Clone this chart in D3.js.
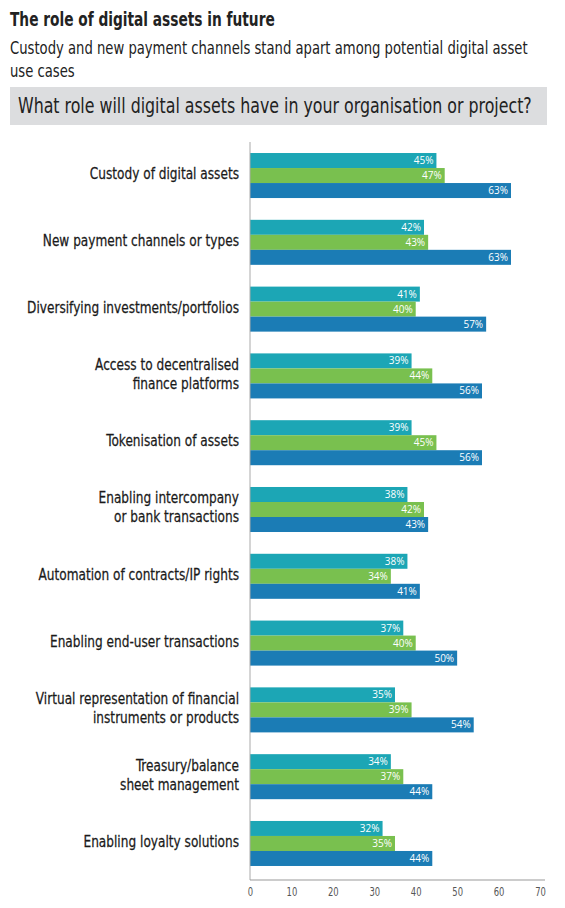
<!DOCTYPE html>
<html>
<head>
<meta charset="utf-8">
<script src="https://cdn.jsdelivr.net/npm/d3@7"></script>
<style>
  body { margin: 0; background: #fff; }
  text { font-family: "DejaVu Sans Condensed", "DejaVu Sans", sans-serif; font-stretch: condensed; }
</style>
</head>
<body>
<div class="chart"></div>
<script>
var categories = [
  ["Custody of digital assets"],
  ["New payment channels or types"],
  ["Diversifying investments/portfolios"],
  ["Access to decentralised", "finance platforms"],
  ["Tokenisation of assets"],
  ["Enabling intercompany", "or bank transactions"],
  ["Automation of contracts/IP rights"],
  ["Enabling end-user transactions"],
  ["Virtual representation of financial", "instruments or products"],
  ["Treasury/balance", "sheet management"],
  ["Enabling loyalty solutions"]
]
var seriesTeal  = [45, 42, 41, 39, 39, 38, 38, 37, 35, 34, 32]
var seriesGreen = [47, 43, 40, 44, 45, 42, 34, 40, 39, 37, 35]
var seriesBlue  = [63, 63, 57, 56, 56, 43, 41, 50, 54, 44, 44]
var seriesNames = ["teal", "green", "blue"]
var xTicks = [0, 10, 20, 30, 40, 50, 60, 70]

document.addEventListener("DOMContentLoaded", draw)

// squeeze a text horizontally around anchor x so it has a given width
function squeezeTo(node, x0, target){
  var w = node.getComputedTextLength()
  var f = target / w
  d3.select(node).attr("transform", `translate(${x0},0) scale(${f},1) translate(${-x0},0)`)
  return f
}
function squeezeBy(node, x0, f){
  d3.select(node).attr("transform", `translate(${x0},0) scale(${f},1) translate(${-x0},0)`)
}

function draw(){
  var width = 565,
      height = 908

  var svg = d3.select(".chart").append("svg")
    .attr("width", width)
    .attr("height", height)

  // header
  var title = svg.append("text")
    .attr("x", 10).attr("y", 26)
    .attr("font-size", 20).attr("font-weight", "bold")
    .attr("fill", "#222")
    .text("The role of digital assets in future")
  squeezeTo(title.node(), 10, 265)

  var sub1 = svg.append("text")
    .attr("x", 10).attr("y", 54)
    .attr("font-size", 17).attr("fill", "#222")
    .text("Custody and new payment channels stand apart among potential digital asset")
  var f = squeezeTo(sub1.node(), 10, 518)
  var sub2 = svg.append("text")
    .attr("x", 10).attr("y", 77)
    .attr("font-size", 17).attr("fill", "#222")
    .text("use cases")
  squeezeBy(sub2.node(), 10, f)

  svg.append("rect")
    .attr("x", 10).attr("y", 87)
    .attr("width", 537).attr("height", 38)
    .attr("fill", "#dcdddf")
  var q = svg.append("text")
    .attr("x", 18).attr("y", 113)
    .attr("font-size", 21).attr("fill", "#222")
    .text("What role will digital assets have in your organisation or project?")
  squeezeTo(q.node(), 18, 514)

  var x = d3.scaleLinear()
    .domain([0, 70])
    .range([250, 540])

  var idx = d3.range(categories.length)
  var y = d3.scaleBand()
    .domain(idx)
    .range([142, 877])
    .paddingInner(0.326)
    .paddingOuter(0.165)

  var sub = d3.scaleBand()
    .domain(seriesNames)
    .range([0, y.bandwidth()])

  var color = d3.scaleOrdinal()
    .domain(seriesNames)
    .range(["#1ca6b5", "#79c04f", "#1b7cb5"])

  var rows = idx.map(function(i){
    return [seriesTeal[i], seriesGreen[i], seriesBlue[i]].map(function(v, k){
      return { i: i, s: seriesNames[k], v: v }
    })
  })

  var groups = svg.append("g")
    .selectAll("g")
    .data(rows)
    .enter()
    .append("g")
    .attr("transform", function(d, i){ return `translate(0,${y(i)})` })

  groups.selectAll("rect")
    .data(function(d){ return d })
    .enter()
    .append("rect")
    .attr("x", x(0))
    .attr("y", function(d){ return sub(d.s) })
    .attr("width", function(d){ return x(d.v) - x(0) })
    .attr("height", sub.bandwidth())
    .attr("fill", function(d){ return color(d.s) })

  groups.selectAll("text.val")
    .data(function(d){ return d })
    .enter()
    .append("text")
    .attr("class", "val")
    .attr("x", function(d){ return x(d.v) - 3 })
    .attr("y", function(d){ return sub(d.s) + sub.bandwidth() / 2 })
    .attr("dy", "0.35em")
    .attr("text-anchor", "end")
    .attr("font-size", 10)
    .attr("fill", "#fff")
    .style("font-family", "'Open Sans', sans-serif")
    .style("font-stretch", "normal")
    .text(function(d){ return d.v + "%" })

  // category labels, squeezed to look condensed
  var labels = svg.append("g")
  labels.selectAll("text")
    .data(categories)
    .enter()
    .append("text")
    .attr("x", 239)
    .attr("y", function(d, i){ return y(i) + y.bandwidth() / 2 })
    .attr("text-anchor", "end")
    .attr("font-size", 16)
    .attr("fill", "#1a1a1a")
    .attr("stroke", "#1a1a1a")
    .attr("stroke-width", 0.25)
    .each(function(d){
      var t = d3.select(this)
      var off = -(d.length - 1) * 9.5
      d.forEach(function(line, j){
        t.append("tspan")
          .attr("x", 239)
          .attr("dy", j === 0 ? (off + 3.5) : 19)
          .text(line)
      })
    })
  var widest = labels.selectAll("tspan").filter(function(){
    return this.textContent === "Diversifying investments/portfolios"
  }).node().getComputedTextLength()
  labels.attr("transform", `translate(239,0) scale(${212 / widest},1) translate(-239,0)`)

  // axes
  svg.append("line")
    .attr("x1", x(0)).attr("x2", x(0))
    .attr("y1", 142).attr("y2", 880)
    .attr("stroke", "#aaa")

  var xAxis = svg.append("g")
    .attr("transform", "translate(0,880)")
    .call(d3.axisBottom(x).tickValues(xTicks).tickSize(0).tickPadding(7))
  xAxis.select(".domain")
    .attr("d", `M${x(0)},0H545`)
    .attr("stroke", "#999")
  xAxis.selectAll("text")
    .attr("font-size", 13)
    .attr("fill", "#555")
    .style("font-family", "'DejaVu Sans Condensed', 'DejaVu Sans', sans-serif")
    .attr("transform", "scale(0.72,1)")
}
</script>
</body>
</html>
